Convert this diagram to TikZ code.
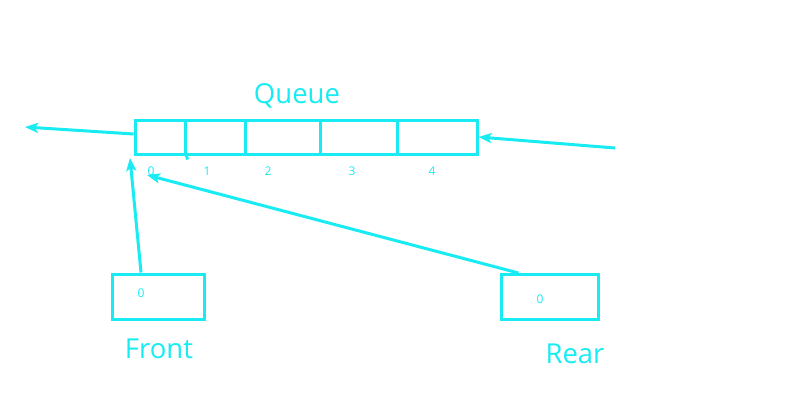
\documentclass[tikz,border=0pt]{standalone}
\usepackage{fontspec}
\setmainfont{Open Sans}
\usepackage{xcolor}
\usetikzlibrary{arrows.meta}
\definecolor{qcyan}{RGB}{24,236,242}

\begin{document}
\begin{tikzpicture}[x=1pt, y=-1pt,
    every node/.style={text=qcyan, inner sep=0pt},
    cell/.style={draw=qcyan, line width=3pt, minimum height=34pt},
    ptrbox/.style={draw=qcyan, line width=3pt, minimum height=45pt},
    link/.style={draw=qcyan, line width=3pt, -{Stealth[length=13pt, width=10pt, inset=3pt]}},
    idx/.style={font=\fontsize{12}{12}\selectfont},
    title/.style={font=\fontsize{27.5}{27.5}\selectfont}]
      \useasboundingbox (0,0) rectangle (791,409);
      % queue cells
      \node[cell, minimum width=50pt] (c0) at (160,137) {};
      \node[cell, minimum width=60pt] (c1) at (215,137) {};
      \node[cell, minimum width=75pt] (c2) at (282.5,137) {};
      \node[cell, minimum width=77pt] (c3) at (358.5,137) {};
      \node[cell, minimum width=80pt] (c4) at (437,137) {};
      \draw[qcyan, line width=3pt] (c0.south east) -- ++(1,4);
      \node[title] (queue) at (297,96) {Queue};
      \begin{scope}[every node/.style={text=qcyan, inner sep=0pt, idx}]
      \node (i0) at (151,171) {0};
      \node (i1) at (207,171) {1};
      \node (i2) at (268,171) {2};
      \node (i3) at (352,171) {3};
      \node (i4) at (432,171) {4};
      \end{scope}
      % front and rear
      \node[ptrbox, minimum width=92pt] (front) at (158,296.5) {};
      \node[idx] at (141,293) {0};
      \node[title] (frontlbl) at (159,349) {Front};
      \node[ptrbox, minimum width=97pt] (rear) at (549.5,297) {};
      \node[idx] at (540,299) {0};
      \node[title] (rearlbl) at (575,354) {Rear};
      % arrows
      \coordinate (out) at (25,127);
      \coordinate (in) at (615,148);
      \coordinate (ftip) at (130,158);
      \coordinate (rtip) at (147,175);
      \draw[link] ([yshift=3pt]c0.west) -- (out);
      \draw[link] (in) -- (c4.east);
      \draw[link] ([xshift=-17pt]front.north) -- (ftip);
      \draw[link] ([xshift=-31pt]rear.north) -- (rtip);
    \end{tikzpicture}
\end{document}
